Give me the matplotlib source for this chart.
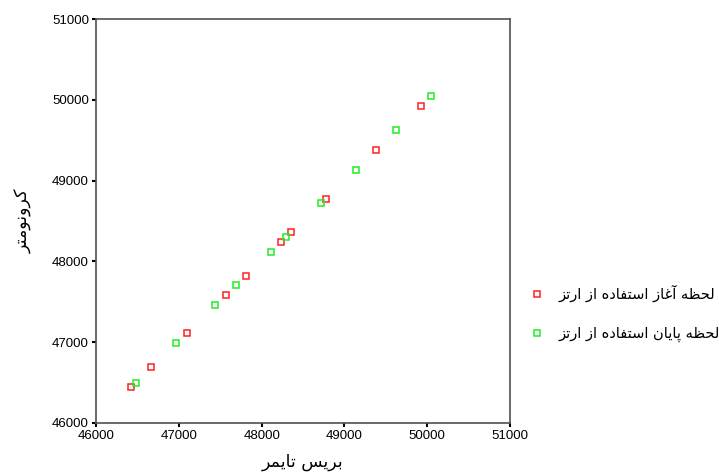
import matplotlib
matplotlib.use("Agg")
import matplotlib.pyplot as plt
from matplotlib.lines import Line2D

# arabic letters: (isolated, final, initial, medial); two-form letters only join to the right
FORMS = {
    "\u0627": (0xFE8D, 0xFE8E), "\u0622": (0xFE81, 0xFE82),
    "\u062F": (0xFEA9, 0xFEAA), "\u0631": (0xFEAD, 0xFEAE),
    "\u0632": (0xFEAF, 0xFEB0), "\u0648": (0xFEED, 0xFEEE),
    "\u0628": (0xFE8F, 0xFE90, 0xFE91, 0xFE92), "\u067E": (0xFB56, 0xFB57, 0xFB58, 0xFB59),
    "\u062A": (0xFE95, 0xFE96, 0xFE97, 0xFE98), "\u062D": (0xFEA1, 0xFEA2, 0xFEA3, 0xFEA4),
    "\u0633": (0xFEB1, 0xFEB2, 0xFEB3, 0xFEB4), "\u0638": (0xFEC5, 0xFEC6, 0xFEC7, 0xFEC8),
    "\u063A": (0xFECD, 0xFECE, 0xFECF, 0xFED0), "\u0641": (0xFED1, 0xFED2, 0xFED3, 0xFED4),
    "\u0644": (0xFEDD, 0xFEDE, 0xFEDF, 0xFEE0), "\u0645": (0xFEE1, 0xFEE2, 0xFEE3, 0xFEE4),
    "\u0646": (0xFEE5, 0xFEE6, 0xFEE7, 0xFEE8), "\u0647": (0xFEE9, 0xFEEA, 0xFEEB, 0xFEEC),
    "\u06A9": (0xFB8E, 0xFB8F, 0xFB90, 0xFB91), "\u06CC": (0xFBFC, 0xFBFD, 0xFBFE, 0xFBFF),
}


def shape(text):
    out = []
    for i, ch in enumerate(text):
        f = FORMS.get(ch)
        if f is None:
            out.append(ch)
            continue
        prev = text[i - 1] if i > 0 else ""
        nxt = text[i + 1] if i + 1 < len(text) else ""
        join_prev = prev in FORMS and len(FORMS[prev]) == 4
        join_next = len(f) == 4 and nxt in FORMS
        if join_prev and join_next:
            c = f[3]
        elif join_prev:
            c = f[1]
        elif join_next:
            c = f[2]
        else:
            c = f[0]
        out.append(chr(c))
    return "".join(out)[::-1]


x_label = "بریس تایمر"
y_label = "کرونومتر"
series_names = ["لحظه آغاز استفاده از ارتز", "لحظه پایان استفاده از ارتز"]

start_x = [46420, 46670, 47093, 47574, 47808, 48231, 48349, 48772, 49386, 49926]
start_y = [46440, 46690, 47110, 47584, 47823, 48240, 48360, 48776, 49375, 49927]
end_x = [46481, 46960, 47441, 47691, 48115, 48292, 48712, 49136, 49620, 50044]
end_y = [46495, 46986, 47464, 47704, 48120, 48298, 48719, 49135, 49630, 50047]

ticks = [46000, 47000, 48000, 49000, 50000, 51000]

fig = plt.figure(figsize=(7.19, 4.75), dpi=100)
ax = fig.add_axes([0.1335, 0.110, 0.576, 0.850])

ax.plot(start_x, start_y, "s", ms=5, mfc="none", mec="#ff2020", mew=1.1, ls="none")
ax.plot(end_x, end_y, "s", ms=5, mfc="none", mec="#20ee20", mew=1.1, ls="none")

ax.set_xlim(46000, 51000)
ax.set_ylim(46000, 51000)
ax.set_xticks(ticks)
ax.set_yticks(ticks)
ax.set_xticklabels([str(t) for t in ticks], fontfamily="Liberation Sans", fontsize=9.5)
ax.set_yticklabels([str(t) for t in ticks], fontfamily="Liberation Sans", fontsize=9.5)
ax.tick_params(length=3, width=1.5, color="black", pad=2)

for s in ax.spines.values():
    s.set_color("#505050")
    s.set_linewidth(1.2)

ax.set_xlabel(shape(x_label), fontfamily="DejaVu Sans", fontsize=12.5, labelpad=8)
ax.set_ylabel(shape(y_label), fontfamily="DejaVu Sans", fontsize=12.5, labelpad=14)

handles = [
    Line2D([], [], marker="s", ms=5, mfc="none", mec="#ff2020", mew=1.1, ls="none"),
    Line2D([], [], marker="s", ms=5, mfc="none", mec="#20ee20", mew=1.1, ls="none"),
]
fig.legend(handles, [shape(n) for n in series_names], loc="center left",
           bbox_to_anchor=(0.708, 0.34), frameon=False, handletextpad=0.5,
           labelspacing=1.6, prop={"family": "DejaVu Sans", "size": 10.5})

fig.savefig("out.png", dpi=100)
